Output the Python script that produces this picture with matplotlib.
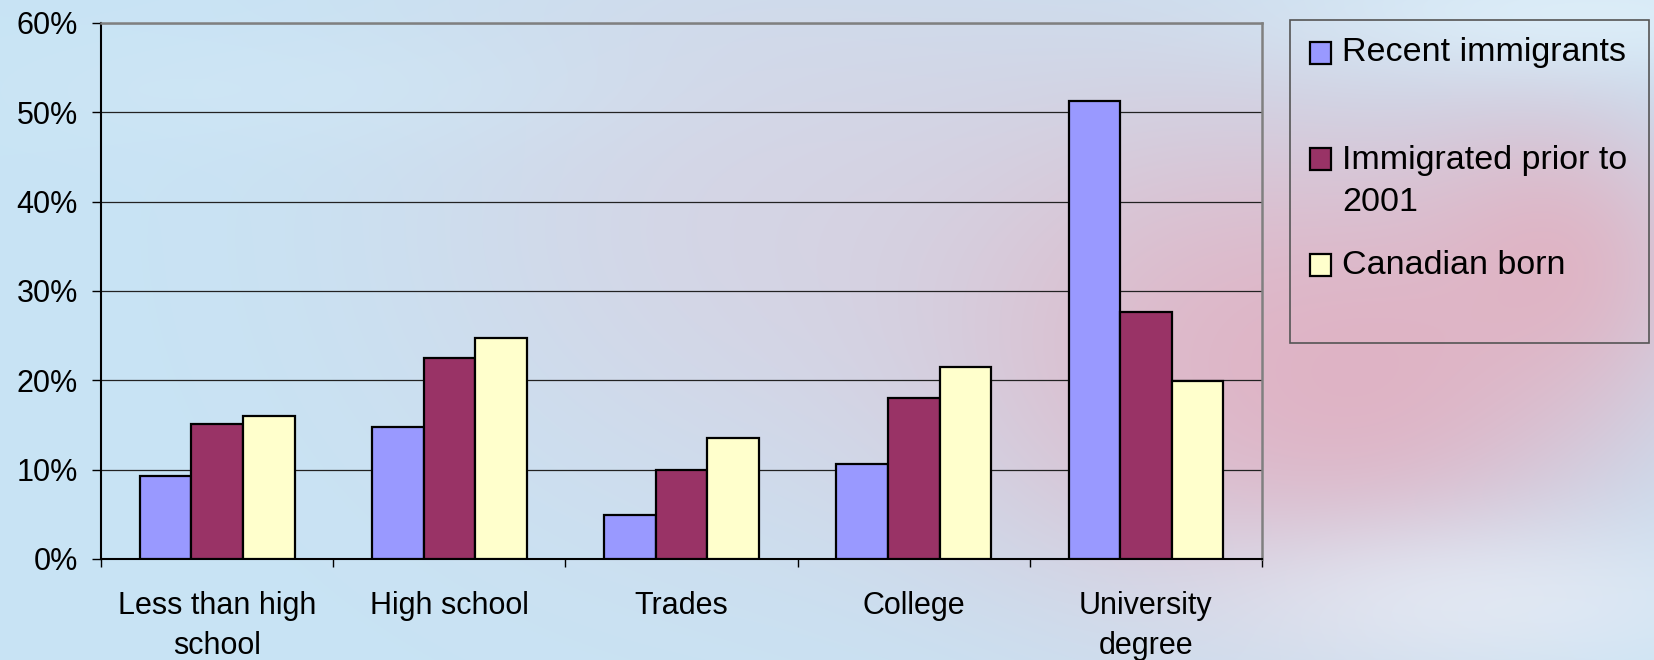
import numpy as np
import matplotlib
matplotlib.use("Agg")
import matplotlib.pyplot as plt
from matplotlib.patches import Rectangle

plt.rcParams['font.family'] = ['Liberation Sans', 'DejaVu Sans']

# ---- data ----
categories = ["Less than high\nschool", "High school", "Trades", "College", "University\ndegree"]
series_names = ["Recent immigrants", "Immigrated prior to\n2001", "Canadian born"]
recent = [9.3, 14.8, 4.9, 10.6, 51.3]
prior_2001 = [15.1, 22.5, 10.0, 18.0, 27.6]
canadian_born = [16.0, 24.7, 13.5, 21.5, 19.9]
y_ticks = [0, 10, 20, 30, 40, 50, 60]
colors = ["#9999FF", "#993366", "#FFFFCC"]

W, H = 1654, 660
fig = plt.figure(figsize=(W / 100, H / 100), dpi=100)

# ---- background (decorative gradient) ----
bg = fig.add_axes([0, 0, 1, 1], zorder=-10)
yy, xx = np.mgrid[0:H, 0:W]
img = np.ones((H, W, 3)) * np.array([200, 228, 245]) / 255.0

def blob(cx, cy, sx, sy, color, strength):
    w = strength * np.exp(-(((xx - cx) / sx) ** 2 + ((yy - cy) / sy) ** 2))
    img[:] = img * (1 - w[..., None]) + (np.array(color) / 255.0) * w[..., None]

blob(760, 220, 380, 320, (214, 212, 228), 0.85)
blob(1200, 330, 300, 260, (222, 190, 205), 0.8)
blob(1350, 380, 260, 200, (224, 176, 194), 0.85)
blob(1560, 260, 160, 160, (228, 170, 186), 0.7)
blob(1580, 15, 280, 60, (224, 240, 250), 0.8)
blob(1480, 600, 280, 80, (232, 238, 247), 0.7)
blob(300, 90, 300, 60, (210, 232, 246), 0.5)
bg.imshow(img, aspect='auto', extent=[0, 1, 0, 1], origin='upper')
bg.set_axis_off()

# ---- main axes ----
left, right = 101 / W, 1262 / W
bottom, top = (H - 559) / H, (H - 23) / H
ax = fig.add_axes([left, bottom, right - left, top - bottom])
ax.set_facecolor('none')

x = np.arange(len(categories))
bw = 1 / 4.5
for i, (vals, c) in enumerate(zip([recent, prior_2001, canadian_born], colors)):
    ax.bar(x + (i - 1) * bw, vals, width=bw, color=c, edgecolor='black',
           linewidth=1.6, zorder=3)

ax.set_xlim(-0.5, len(categories) - 0.5)
ax.set_ylim(0, 60)
ax.set_yticks(y_ticks)
ax.set_yticklabels([f"{v}%" for v in y_ticks], fontsize=22)
ax.yaxis.grid(True, color='#222222', linewidth=0.9, zorder=1)
ax.set_axisbelow(True)
ax.tick_params(axis='y', length=6.5, width=1, pad=10, colors='black')

ax.set_xticks(x)
ax.set_xticklabels(categories, fontsize=22, linespacing=1.45)
ax.tick_params(axis='x', which='major', length=0, pad=23)
ax.set_xticks(np.arange(-0.5, len(categories), 1.0), minor=True)
ax.tick_params(axis='x', which='minor', length=6, width=1, direction='out')

for s in ['top', 'right']:
    ax.spines[s].set_color('#808080')
    ax.spines[s].set_linewidth(1.8)
for s in ['left', 'bottom']:
    ax.spines[s].set_color('black')
    ax.spines[s].set_linewidth(1.5)

# ---- legend (drawn in figure pixel coords) ----
def fx(px):
    return px / W

def fy(py):
    return 1 - py / H

fig.add_artist(Rectangle((fx(1290), fy(343)), fx(1649) - fx(1290), fy(20) - fy(343),
                         transform=fig.transFigure, facecolor='none',
                         edgecolor='#555555', linewidth=1.2))
entry_y = [53, 159, 265]
for name, c, ey in zip(series_names, colors, entry_y):
    fig.add_artist(Rectangle((fx(1310), fy(ey + 11)), fx(21), 22 / H,
                             transform=fig.transFigure, facecolor=c,
                             edgecolor='black', linewidth=1.6))
    if '\n' in name:
        fig.text(fx(1342), fy(ey - 14), name, fontsize=24.5, va='top', ha='left',
                 linespacing=1.45, transform=fig.transFigure)
    else:
        fig.text(fx(1342), fy(ey), name, fontsize=24.5, va='center', ha='left',
                 transform=fig.transFigure)

fig.savefig("out.png", dpi=100)
